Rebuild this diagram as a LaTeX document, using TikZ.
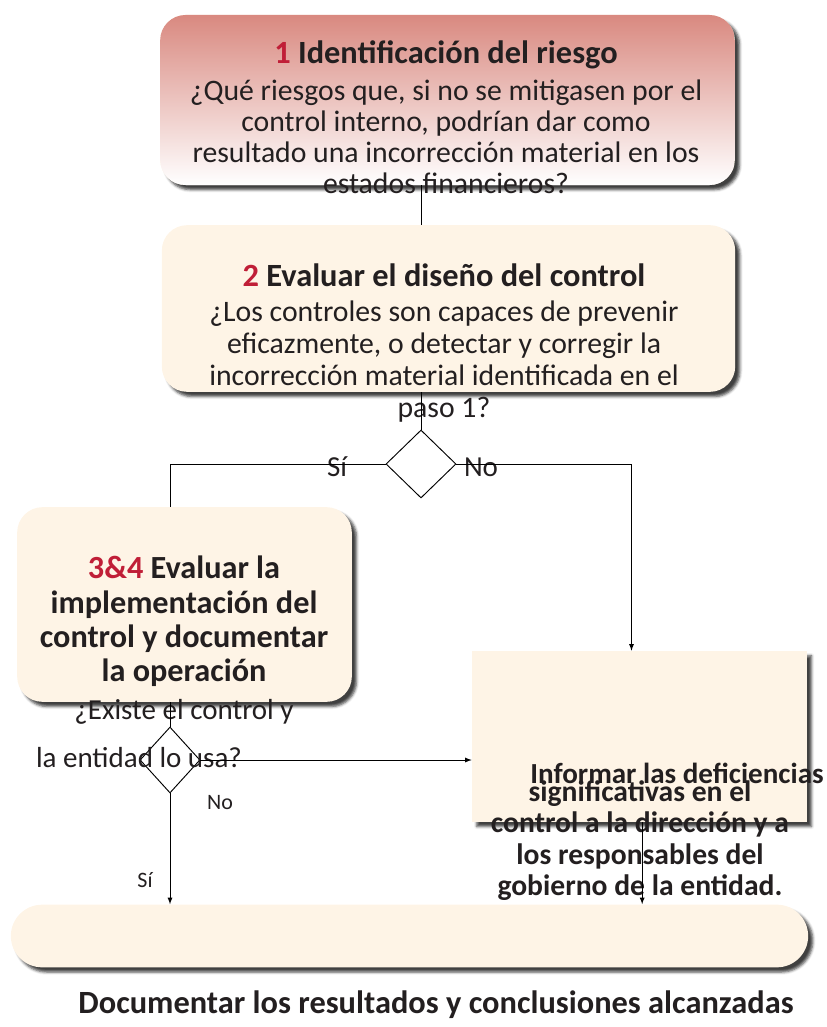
\documentclass[tikz,border=0pt]{standalone}
\usepackage{fontspec}
\setmainfont{Carlito}
\usetikzlibrary{shapes.geometric,shadows.blur}
\definecolor{cream}{RGB}{254,244,230}
\definecolor{rose}{RGB}{217,137,128}
\definecolor{numred}{RGB}{192,30,55}
\definecolor{ink}{RGB}{35,31,32}

\begin{document}
\begin{tikzpicture}[x=0.75pt,y=-0.75pt,>=latex,line width=0.7pt]
    \tikzstyle{stepbox}=[inner sep=0pt,rounded corners=19pt,fill=cream,blur shadow={shadow xshift=3.5pt,shadow yshift=-3.5pt,shadow opacity=75,shadow blur radius=2pt}]
    \tikzstyle{question}=[diamond,draw=black,inner sep=0pt]
    \tikzstyle{steptext}=[text=ink,align=center,inner sep=0pt]
    \tikzstyle{answer}=[text=ink,inner sep=0pt,font=\fontsize{21.75}{22}\selectfont]
    \useasboundingbox (0,0) rectangle (827,1027);

    % boxes
    \node[stepbox,top color=rose,bottom color=white,minimum width=431pt,minimum height=127.5pt] (n1) at (447.5,100) {};
    \node[stepbox,minimum width=430pt,minimum height=125pt] (n2) at (448.5,308.5) {};
    \node[question,minimum width=52.5pt,minimum height=51pt] (q1) at (421,464) {};
    \node[stepbox,minimum width=251pt,minimum height=146pt] (n3) at (184.5,604.5) {};
    \node[question,minimum width=45pt,minimum height=49.5pt] (q2) at (170,760) {};
    \node[stepbox,rounded corners=0pt,minimum width=251pt,minimum height=128pt] (n4) at (639.5,736.5) {};
    \node[stepbox,rounded corners=23.5pt,minimum width=598pt,minimum height=47pt] (n5) at (409.5,936) {};

    % texts
    \node[steptext,font=\fontsize{22.3}{23.25}\selectfont] (t1) at (446,117)
        {{\fontsize{24.3}{24}\selectfont\bfseries\textcolor{numred}{1} Identificación del riesgo}\\[4.5pt]
         ¿Qué riesgos que, si no se mitigasen por el\\
         control interno, podrían dar como\\
         resultado una incorrección material en los\\
         estados financieros?};
    \node[steptext,font=\fontsize{22.3}{24}\selectfont] (t2) at (444,343)
        {{\fontsize{24.3}{24}\selectfont\bfseries\textcolor{numred}{2} Evaluar el diseño del control}\\[2pt]
         ¿Los controles son capaces de prevenir\\
         eficazmente, o detectar y corregir la\\
         incorrección material identificada en el\\
         paso 1?};
    \node[steptext,font=\fontsize{24.2}{25.7}\selectfont\bfseries] (t3) at (184,621.5)
        {\textcolor{numred}{3\&4} Evaluar la\\
         implementación del\\
         control y documentar\\
         la operación};
    \node[steptext,font=\fontsize{21.75}{22}\selectfont] (t3a) at (184,712) {¿Existe el control y};
    \node[steptext,font=\fontsize{21.75}{22}\selectfont] (t3b) at (139,758) {la entidad lo usa?};
    \node[steptext,font=\fontsize{21.8}{22}\selectfont\bfseries] (t4a) at (677,773) {Informar las deficiencias};
    \node[steptext,font=\fontsize{22.2}{23.7}\selectfont\bfseries] (t4) at (640,840.5)
        {significativas en el\\
         control a la dirección y a\\
         los responsables del\\
         gobierno de la entidad.};
    \node[steptext,font=\fontsize{24.3}{24}\selectfont\bfseries] (t5) at (436,1005)
        {Documentar los resultados y conclusiones alcanzadas};

    % answers
    \node[answer] (si1) at (337,467) {Sí};
    \node[answer] (no1) at (481,467) {No};
    \node[answer,font=\fontsize{16.5}{17}\selectfont] (no2) at (220,803) {No};
    \node[answer,font=\fontsize{16.5}{17}\selectfont] (si2) at (145,880) {Sí};

    % edges
    \draw (q1 |- n1.south) -- (q1 |- n2.north);
    \draw (q1 |- n2.south) -- (q1.north);
    \draw (q1.west) -| (q2 |- n3.north);
    \draw[->] (q1.east) -| ([xshift=-6pt]n4.north);
    \draw (q2 |- n3.south) -- (q2.north);
    \draw[->] (q2.east) -- (q2.east -| n4.west);
    \draw[->] (q2.south) -- (q2 |- n5.north);
    \draw[->] ([xshift=2pt]n4.south) -- ([xshift=2pt]n4.south |- n5.north);

\end{tikzpicture}
\end{document}
